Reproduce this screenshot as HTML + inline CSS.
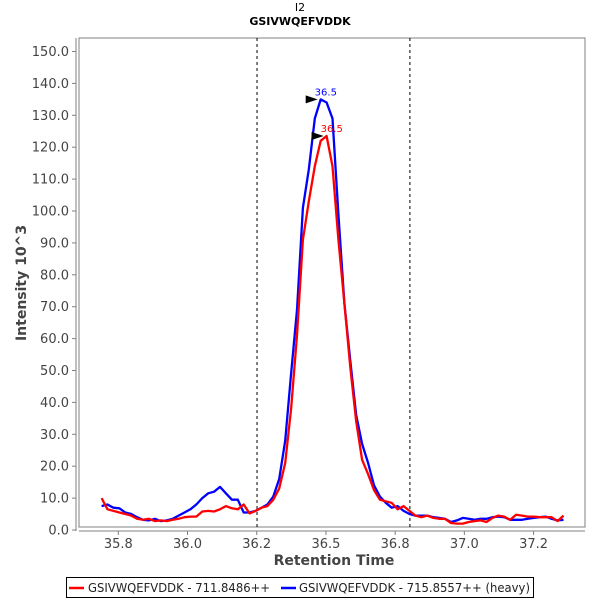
<!DOCTYPE html>
<html><head><meta charset="utf-8"><style>
body{margin:0;background:#fff;}
svg{display:block;font-family:"DejaVu Sans","Liberation Sans",sans-serif;}
</style></head><body>
<svg id="c" width="600" height="600" viewBox="0 0 600 600">
<text x="300" y="11" text-anchor="middle" font-size="11" fill="#000">I2</text>
<text x="300" y="25" text-anchor="middle" font-size="11" font-weight="bold" fill="#000">GSIVWQEFVDDK</text>
<rect x="79" y="38" width="506" height="489" fill="#fff" stroke="#808080" stroke-width="1"/>
<line x1="76" y1="38" x2="76" y2="531" stroke="#808080"/>
<line x1="79" y1="531" x2="585" y2="531" stroke="#808080"/>
<g id="yt"></g>
<g id="xt"></g>
<g id="marks"></g>
<text x="334" y="565" text-anchor="middle" font-size="14" font-weight="bold" fill="#444">Retention Time</text>
<text transform="translate(26,283) rotate(-90)" text-anchor="middle" font-size="14" font-weight="bold" fill="#444">Intensity 10^3</text>
<g>
<rect x="66.5" y="577.5" width="467" height="20" fill="#fff" stroke="#000"/>
<line x1="69" y1="588" x2="84" y2="588" stroke="#f00" stroke-width="2.5"/>
<text x="88" y="592" font-size="12" textLength="182" lengthAdjust="spacingAndGlyphs" fill="#222">GSIVWQEFVDDK - 711.8486++</text>
<line x1="281" y1="588" x2="296" y2="588" stroke="#00f" stroke-width="2.5"/>
<text x="299" y="592" font-size="12" textLength="231" lengthAdjust="spacingAndGlyphs" fill="#222">GSIVWQEFVDDK - 715.8557++ (heavy)</text>
</g>
</svg>
<script>
const yTicks=[0,10,20,30,40,50,60,70,80,90,100,110,120,130,140,150];
const xTickVals=[35.8,36.025,36.25,36.475,36.7,36.925,37.15];
const xTickLabels=["35.8","36.0","36.2","36.5","36.8","37.0","37.2"];
const tStart=35.7457, tStep=0.01925;
const heavy=[7.5,8,7,6.8,5.5,5,4,3.2,3,3.5,2.8,3,3.5,4.5,5.5,6.5,8,10,11.5,12,13.5,11.5,9.5,9.5,5.5,5.5,6,7,8,10.5,16,28,49,69,101,113,129,135,134,129,99,71,53,36,27,21,14,10.5,8.5,7,7.5,6,5,4.5,4.5,4.5,4,3.8,3.5,2.5,3,3.8,3.5,3.2,3.5,3.5,4,4.2,4,3.2,3.2,3.2,3.5,3.8,4,4.2,3.5,3,3.2];
const light=[10,6.5,6,5.5,5,4.5,3.5,3.2,3.5,2.8,3,2.8,3.2,3.5,4,4.2,4.2,5.8,6,5.8,6.5,7.5,6.8,6.5,8,5.2,6,7,7.5,9.5,13,21,38,61,91,103,114,122,123.5,114,91,71,51,34,22,17.5,12.5,9.5,9,8.5,6.5,7.5,6,4.5,4,4.5,3.8,3.5,3.5,2.2,2,2,2.5,2.8,3,2.5,3.8,4.5,4.2,3.2,4.8,4.5,4.2,4.2,4,4,4,2.8,4.5];
const markers=[36.251,36.748];
const peakHeavyIdx=37, peakLightIdx=38, peakLabel="36.5";
const X=t=>118.3+(t-35.8)*307.6;
const Y=v=>530-v*3.19;
const NS="http://www.w3.org/2000/svg";
function mk(tag,attrs,parent){const e=document.createElementNS(NS,tag);for(const k in attrs)e.setAttribute(k,attrs[k]);parent.appendChild(e);return e;}
const yt=document.getElementById('yt'),xt=document.getElementById('xt'),mg=document.getElementById('marks');
yTicks.forEach(v=>{
  const l=mk('line',{x1:72,x2:76,y1:Y(v),y2:Y(v),stroke:'#808080'},yt);
  
  
  const t=mk('text',{x:69,y:Y(v)+4.5,'text-anchor':'end','font-size':13,fill:'#444'},yt);
  
  
  t.textContent=v.toFixed(1);
});
xTickVals.forEach((v,i)=>{
  const l=mk('line',{x1:X(v),x2:X(v),y1:531,y2:535,stroke:'#808080'},xt);
  
  
  const t=mk('text',{x:X(v),y:548,'text-anchor':'middle','font-size':13,fill:'#444'},xt);
  
  
  t.textContent=xTickLabels[i];
});
markers.forEach(m=>{
  const l=mk('line',{x1:X(m),x2:X(m),y1:38,y2:527,stroke:'#000','stroke-dasharray':'3,3'},mg);
  
  
});
function series(vals,color,name){
  const pts=vals.map((v,i)=>X(tStart+i*tStep).toFixed(1)+','+Y(v).toFixed(1)).join(' ');
  const p=mk('polyline',{points:pts,fill:'none',stroke:color,'stroke-width':2.3,'stroke-linejoin':'round'},mg);
  
  
}
series(heavy,'#00f','series-heavy');
series(light,'#f00','series-light');
function peak(vals,idx,color,name){
  const x=X(tStart+idx*tStep),y=Y(vals[idx]);
  const a=mk('polygon',{points:`${x-15},${y-4} ${x-3},${y} ${x-15},${y+4}`,fill:'#000'},mg);
  
  
  const t=mk('text',{x:x-6,y:y-4,'font-size':10,fill:color},mg);
  
  
  t.textContent=peakLabel;
}
peak(heavy,peakHeavyIdx,'#00f','peak-heavy');
peak(light,peakLightIdx,'#f00','peak-light');
</script>
</body></html>
